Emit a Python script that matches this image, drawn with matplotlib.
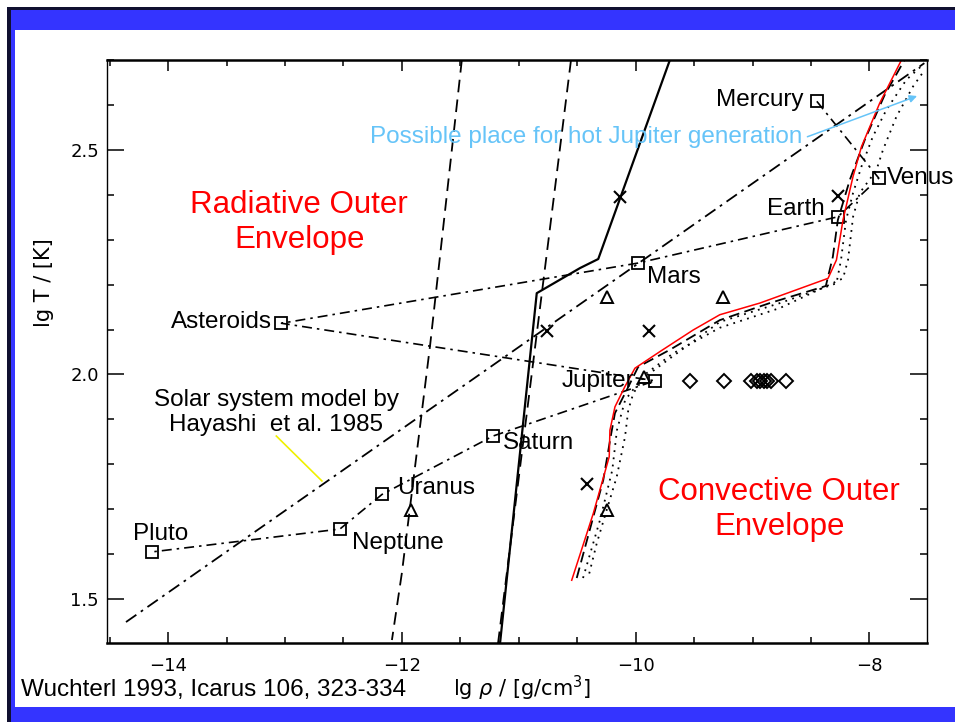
import matplotlib
matplotlib.use("Agg")
import matplotlib.pyplot as plt
from matplotlib.patches import Rectangle
from matplotlib.ticker import MultipleLocator, FormatStrFormatter

# planets along the nebula model, ordered by distance from the Sun
planet_names = ["Mercury", "Venus", "Earth", "Mars", "Asteroids",
                "Jupiter", "Saturn", "Uranus", "Neptune", "Pluto"]
planet_lgrho = [-8.45, -7.92, -8.27, -9.98, -13.03,
                -9.835, -11.22, -12.17, -12.53, -14.14]
planet_lgT = [2.608, 2.437, 2.351, 2.248, 2.114,
              1.986, 1.863, 1.733, 1.656, 1.605]

# Hayashi et al. 1985 solar system model
hayashi_lgrho = [-14.36, -7.53]
hayashi_lgT = [1.449, 2.693]

# critical core mass boundaries
dash_left_lgrho = [-11.487, -11.758, -12.0, -12.085]
dash_left_lgT = [2.70, 2.066, 1.558, 1.409]
dash_right_lgrho = [-10.553, -11.177]
dash_right_lgT = [2.70, 1.402]
solid_lgrho = [-11.16, -10.846, -10.475, -10.32, -9.707]
solid_lgT = [1.402, 2.181, 2.237, 2.257, 2.70]

# radiative / convective transition curves
red_lgrho = [-10.547, -10.362, -10.226, -10.22, -10.177, -10.092, -10.006,
             -9.792, -9.508, -9.28, -8.937, -8.354, -8.282, -8.226, -8.14,
             -8.068, -7.912, -7.726]
red_lgT = [1.542, 1.691, 1.817, 1.876, 1.928, 1.973, 2.014,
           2.051, 2.099, 2.133, 2.159, 2.214, 2.255, 2.344, 2.441,
           2.507, 2.604, 2.70]
conv_dash_lgrho = [-10.504, -10.277, -10.214, -10.177, -10.077, -9.978, -9.707,
                   -9.28, -8.852, -8.373, -8.313, -8.27, -8.168, -8.04, -7.87, -7.70]
conv_dash_lgT = [1.547, 1.765, 1.861, 1.914, 1.965, 2.017, 2.055,
                 2.121, 2.159, 2.197, 2.262, 2.344, 2.433, 2.522, 2.622, 2.70]
dot_in_lgrho = [-10.45, -10.305, -10.2, -10.16, -10.09, -9.96, -9.706, -9.28,
                -8.765, -8.282, -8.243, -8.2, -8.14, -8.068, -7.97, -7.855,
                -7.684, -7.54]
dot_in_lgT = [1.547, 1.676, 1.787, 1.876, 1.943, 1.987, 2.036, 2.117,
              2.159, 2.203, 2.255, 2.344, 2.404, 2.463, 2.53, 2.589,
              2.656, 2.69]
dot_out_lgrho = [-10.397, -10.333, -10.248, -10.162, -10.091, -10.063, -10.02,
                 -9.906, -9.679, -9.28, -8.765, -8.226, -8.183, -8.14, -8.083,
                 -7.94, -7.884, -7.769, -7.627, -7.527]
dot_out_lgT = [1.557, 1.624, 1.698, 1.772, 1.861, 1.921, 1.958,
               2.003, 2.047, 2.104, 2.148, 2.214, 2.255, 2.351, 2.404,
               2.455, 2.50, 2.574, 2.641, 2.678]

# individual model points
cross_lgrho = [-10.13, -10.76, -9.89, -10.42, -8.27]
cross_lgT = [2.396, 2.097, 2.097, 1.756, 2.398]
tri_lgrho = [-10.248, -9.256, -9.929, -10.248, -11.923]
tri_lgT = [2.173, 2.173, 1.995, 1.698, 1.698]
diamond_lgrho = [-9.536, -9.243, -9.009, -8.966, -8.938, -8.903, -8.875, -8.838, -8.715]
diamond_lgT = [1.986] * len(diamond_lgrho)

W, H = 955, 722
TXT = "Liberation Sans"
BLUE = "#3434ff"
SKY = "#66c4f8"

fig = plt.figure(figsize=(W / 100, H / 100), dpi=100)
fig.patch.set_facecolor("white")


def px_rect(x0, y0, x1, y1, color):
    fig.add_artist(Rectangle((x0 / W, 1 - y1 / H), (x1 - x0) / W, (y1 - y0) / H,
                             transform=fig.transFigure, facecolor=color,
                             edgecolor="none", zorder=0))


# slide frame
px_rect(7, 7, W, 10, "#101030")
px_rect(7, 7, 10.5, H, "#101030")
px_rect(10.5, 10, W, 30, BLUE)
px_rect(10.5, 10, 15, H, BLUE)
px_rect(10.5, 706.5, W, H, BLUE)

ax = fig.add_axes([107.3 / W, 1 - 642.7 / H, (926.7 - 107.3) / W, (642.7 - 60) / H])
ax.set_xlim(-14.52, -7.51)
ax.set_ylim(1.403, 2.70)

dashdot = (6, 3, 1.5, 3)
ax.plot(hayashi_lgrho, hayashi_lgT, color="k", lw=1.3, dashes=(7, 3, 1.5, 3))
ax.plot(planet_lgrho, planet_lgT, color="k", lw=1.2, dashes=dashdot,
        marker="s", ms=8, mfc="none", mec="k", mew=1.3)
ax.plot(dash_left_lgrho, dash_left_lgT, color="k", lw=1.3, dashes=(7, 4))
ax.plot(dash_right_lgrho, dash_right_lgT, color="k", lw=1.3, dashes=(7, 4))
ax.plot(solid_lgrho, solid_lgT, color="k", lw=1.6)

ax.plot(conv_dash_lgrho, conv_dash_lgT, color="k", lw=1.3, dashes=(6, 3))
ax.plot(dot_in_lgrho, dot_in_lgT, color="k", lw=1.3, dashes=(1, 3))
ax.plot(dot_out_lgrho, dot_out_lgT, color="k", lw=1.3, dashes=(1, 3))
ax.plot(red_lgrho, red_lgT, color="red", lw=1.1)

ax.plot(cross_lgrho, cross_lgT, "x", color="k", ms=9, mew=1.5)
ax.plot(tri_lgrho, tri_lgT, "^", color="k", ms=8, mfc="none", mew=1.4)
ax.plot(diamond_lgrho, diamond_lgT, "D", color="k", ms=7, mfc="none", mew=1.4)

# planet labels
label_pos = {
    "Mercury": (-8.568, 2.611, "right"),
    "Venus": (-7.853, 2.438, "left"),
    "Earth": (-8.379, 2.369, "right"),
    "Mars": (-9.906, 2.216, "left"),
    "Asteroids": (-13.109, 2.117, "right"),
    "Jupiter": (-10.014, 1.986, "right"),
    "Saturn": (-11.132, 1.847, "left"),
    "Uranus": (-12.043, 1.747, "left"),
    "Neptune": (-12.427, 1.626, "left"),
    "Pluto": (-14.303, 1.645, "left"),
}
for name in planet_names:
    x, y, ha = label_pos[name]
    ax.text(x, y, name, ha=ha, va="center", fontsize=17.5, family=TXT, color="k")

ax.text(-12.878, 2.338, "Radiative Outer\nEnvelope", ha="center", va="center",
        fontsize=22.5, family=TXT, color="red", linespacing=1.2)
ax.text(-8.771, 1.699, "Convective Outer\nEnvelope", ha="center", va="center",
        fontsize=22.5, family=TXT, color="red", linespacing=1.2)
ax.text(-13.073, 1.915, "Solar system model by\nHayashi  et al. 1985", ha="center",
        va="center", fontsize=17.5, family=TXT, color="k", linespacing=1.2)
ax.plot([-13.074, -12.684], [1.863, 1.763], color="#f0f000", lw=1.2)

ax.text(-8.576, 2.529, "Possible place for hot Jupiter generation", ha="right",
        va="center", fontsize=17.5, family=TXT, color=SKY)
ax.annotate("", xy=(-7.57, 2.622), xytext=(-8.553, 2.527),
            arrowprops=dict(arrowstyle="-|>", color=SKY, lw=1.1, mutation_scale=11))

# IDL style axes: inward ticks on every side
ax.xaxis.set_major_locator(MultipleLocator(2))
ax.xaxis.set_minor_locator(MultipleLocator(0.5))
ax.yaxis.set_major_locator(MultipleLocator(0.5))
ax.yaxis.set_minor_locator(MultipleLocator(0.1))
ax.tick_params(axis="both", which="both", direction="in", top=True, right=True,
               width=1.1, labelsize=13)
ax.tick_params(axis="x", which="major", length=8, pad=10)
ax.tick_params(axis="x", which="minor", length=4)
ax.tick_params(axis="y", which="major", length=12, pad=6)
ax.tick_params(axis="y", which="minor", length=5)
ax.yaxis.set_major_formatter(FormatStrFormatter("%.1f"))
for side in ["top", "bottom"]:
    ax.spines[side].set_linewidth(1.8)
for side in ["left", "right"]:
    ax.spines[side].set_linewidth(1.0)

fig.text(522 / W, 1 - 688 / H, r"lg $\rho$ / [g/cm$^3$]", ha="center", va="center",
         fontsize=15)
fig.text(44 / W, 1 - 283 / H, "lg T / [K]", ha="center", va="center",
         fontsize=15, rotation=90)
fig.text(21 / W, 1 - 690 / H, "Wuchterl 1993, Icarus 106, 323-334", ha="left",
         va="center", fontsize=17.5, family=TXT, color="k")

fig.savefig("out.png", dpi=100)
